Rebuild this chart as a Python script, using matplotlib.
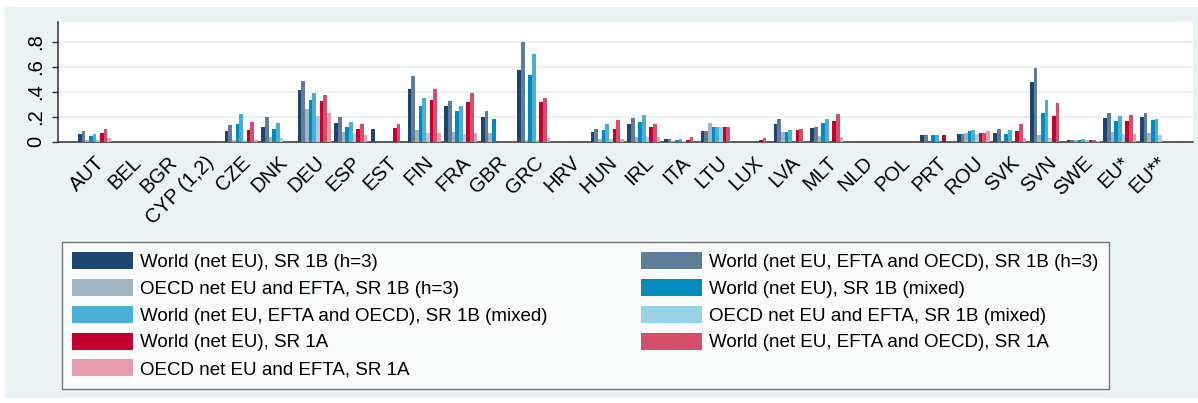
import numpy as np
import matplotlib.pyplot as plt
from matplotlib.patches import Rectangle

plt.rcParams['font.family'] = ['Liberation Sans', 'DejaVu Sans']

countries = ['AUT', 'BEL', 'BGR', 'CYP (1,2)', 'CZE', 'DNK', 'DEU', 'ESP', 'EST', 'FIN',
             'FRA', 'GBR', 'GRC', 'HRV', 'HUN', 'IRL', 'ITA', 'LTU', 'LUX', 'LVA',
             'MLT', 'NLD', 'POL', 'PRT', 'ROU', 'SVK', 'SVN', 'SWE', 'EU*', 'EU**']

# one list per series, same order as countries
world_1b_h3 = [0.059, 0, 0, 0, 0.082, 0.119, 0.414, 0.152, 0.099, 0.419,
               0.286, 0.201, 0.574, 0, 0.074, 0.144, 0.019, 0.088, 0, 0.141,
               0.111, 0, 0, 0.054, 0.062, 0.066, 0.480, 0.014, 0.190, 0.195]
world_efta_1b_h3 = [0.084, 0, 0, 0, 0.134, 0.195, 0.488, 0.195, 0, 0.526,
                    0.326, 0.243, 0.800, 0, 0.104, 0.193, 0.024, 0.088, 0, 0.179,
                    0.121, 0, 0, 0.056, 0.062, 0.101, 0.592, 0.014, 0.227, 0.232]
oecd_1b_h3 = [0.016, 0, 0, 0, 0.010, 0.038, 0.259, 0.078, 0, 0.094,
              0.078, 0.067, 0.010, 0, 0.019, 0.039, 0.005, 0.152, 0, 0.080,
              0.048, 0, 0, 0, 0.070, 0, 0.054, 0.010, 0.078, 0.072]
world_1b_mixed = [0.044, 0, 0, 0, 0.139, 0.104, 0.336, 0.120, 0, 0.283,
                  0.243, 0.178, 0.534, 0, 0.094, 0.155, 0.012, 0.118, 0, 0.075,
                  0.146, 0, 0, 0.056, 0.086, 0.064, 0.233, 0.014, 0.162, 0.171]
world_efta_1b_mixed = [0.062, 0, 0, 0, 0.222, 0.152, 0.390, 0.158, 0, 0.352,
                       0.288, 0, 0.702, 0, 0.139, 0.211, 0.019, 0.118, 0, 0.094,
                       0.180, 0, 0, 0.056, 0.091, 0.094, 0.334, 0.019, 0.203, 0.180]
oecd_1b_mixed = [0.012, 0, 0, 0, 0.014, 0.028, 0.206, 0.062, 0, 0.067,
                 0.064, 0, 0.010, 0, 0.022, 0.040, 0.005, 0.118, 0, 0,
                 0, 0, 0, 0, 0.060, 0, 0.032, 0.014, 0.060, 0.055]
world_1a = [0.067, 0, 0, 0, 0.096, 0, 0.328, 0.104, 0.112, 0.331,
            0.320, 0, 0.318, 0, 0.104, 0.115, 0.017, 0.118, 0.014, 0.094,
            0.162, 0, 0, 0.051, 0.067, 0.086, 0.202, 0.014, 0.166, 0]
world_efta_1a = [0.098, 0, 0, 0, 0.157, 0, 0.374, 0.139, 0.144, 0.422,
                 0.390, 0, 0.347, 0, 0.170, 0.144, 0.040, 0.118, 0.027, 0.103,
                 0.218, 0, 0, 0, 0.067, 0.143, 0.312, 0.014, 0.211, 0]
oecd_1a = [0.028, 0, 0, 0, 0.014, 0, 0.227, 0.054, 0, 0.070,
           0.070, 0, 0.027, 0, 0.024, 0.036, 0, 0, 0, 0,
           0.034, 0, 0, 0, 0.082, 0.026, 0, 0.008, 0.060, 0]

series = [world_1b_h3, world_efta_1b_h3, oecd_1b_h3,
          world_1b_mixed, world_efta_1b_mixed, oecd_1b_mixed,
          world_1a, world_efta_1a, oecd_1a]
labels = ['World (net EU), SR 1B (h=3)',
          'World (net EU, EFTA and OECD), SR 1B (h=3)',
          'OECD net EU and EFTA, SR 1B (h=3)',
          'World (net EU), SR 1B (mixed)',
          'World (net EU, EFTA and OECD), SR 1B (mixed)',
          'OECD net EU and EFTA, SR 1B (mixed)',
          'World (net EU), SR 1A',
          'World (net EU, EFTA and OECD), SR 1A',
          'OECD net EU and EFTA, SR 1A']
colors = ['#1c4670', '#5f7d99', '#a2b3c4', '#008bbc', '#4aafd5', '#99d3e6',
          '#c30232', '#d54f6d', '#e99aae']

bg = '#eaf2f3'
W, H = 1198, 403
fig = plt.figure(figsize=(W / 100, H / 100), dpi=100)
fig.patch.set_facecolor('white')
fig.add_artist(Rectangle((5 / W, 5 / H), 1 - 5 / W, 1 - 12 / H,
                         transform=fig.transFigure, facecolor=bg,
                         edgecolor='none', zorder=-10))

ax = fig.add_axes([58 / W, (H - 141.7) / H, (1193 - 58) / W, 120 / H])
ax.set_facecolor('white')

x = np.arange(len(countries))
bw = 0.1
handles = []
for i, (vals, lab, c) in enumerate(zip(series, labels, colors)):
    h = ax.bar(x + (i - 4) * bw, vals, width=bw, color=c, label=lab,
               linewidth=0, zorder=3)
    handles.append(h)

ax.set_xlim(-1.0, len(countries))
ax.set_ylim(0, 0.96)
ax.set_yticks([0, 0.2, 0.4, 0.6, 0.8])
ax.set_yticklabels(['0', '.2', '.4', '.6', '.8'], rotation=90, va='center')
ax.grid(axis='y', color=bg, linewidth=1.6, zorder=0)
ax.set_xticks(x)
ax.set_xticklabels(countries, rotation=45, ha='right', rotation_mode='anchor')
ax.tick_params(axis='x', length=0, pad=8, labelsize=14.5)
ax.tick_params(axis='y', length=4, width=1, color='#333333', pad=5, labelsize=14.5)
for s in ['top', 'right']:
    ax.spines[s].set_visible(False)
for s in ['left', 'bottom']:
    ax.spines[s].set_color('#333333')
    ax.spines[s].set_linewidth(1.1)

order = [0, 2, 4, 6, 8, 1, 3, 5, 7]
fs = 13.5
px = fs * 100 / 72
leg = fig.legend([handles[i] for i in order], [labels[i] for i in order],
                 loc='upper left', bbox_to_anchor=(62 / W, (H - 242) / H),
                 ncol=2, fontsize=fs, frameon=True, fancybox=False,
                 handlelength=61 / px, handleheight=19 / px,
                 handletextpad=7 / px, labelspacing=0.42,
                 columnspacing=93 / px, borderpad=0.55, borderaxespad=0)
leg.get_frame().set_edgecolor('#555555')
leg.get_frame().set_linewidth(1.0)

fig.savefig('out.png', dpi=100)
